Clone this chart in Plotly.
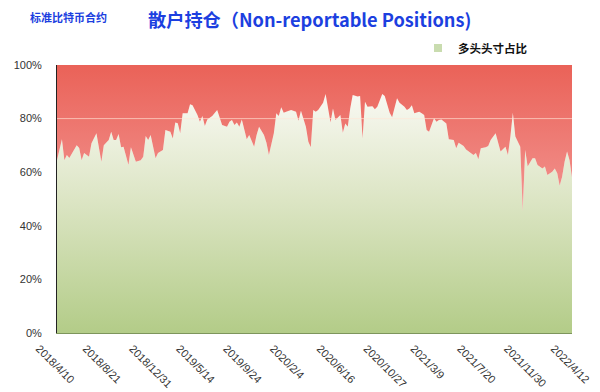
import plotly.graph_objects as go
import pandas as pd
import numpy as np

start_date = "2018-04-10"

# week offsets from the start date, and long-position share (%)
weeks = [0, 2, 3, 4, 5, 7, 8, 9, 10, 11, 13, 14, 16, 18, 19, 21, 22, 23, 24, 25,
         26, 27, 29, 30, 32, 34, 35, 36, 37, 38, 40, 41, 43, 44, 46, 47, 48, 49, 50, 51,
         53, 54, 55, 57, 58, 59, 60, 61, 63, 65, 66, 67, 69,
         70, 71, 72, 73, 74, 75, 76, 77, 78, 79, 80, 81, 82, 84, 85, 86, 88, 89, 90, 91,
         92, 93, 95, 97, 98, 99, 101, 102, 103, 104, 105, 106, 108, 109, 111, 112, 113,
         115, 116, 117, 118, 119, 120, 122, 123, 124, 125, 126, 128, 129, 130, 132, 133,
         135, 136, 138,
         139, 141, 142, 143, 144, 145, 147, 148, 149, 150, 151, 153, 154, 155, 156, 158,
         159, 161, 162, 163, 165, 166, 167, 169, 170, 171, 172, 174, 175, 176, 178, 179,
         180, 182, 183, 184, 185, 186, 187, 188, 189, 190, 191, 193, 194, 195, 197, 198,
         199, 201, 202, 203, 204, 205, 206, 207, 208, 209]
long_share = [64.5, 72.3, 64.5, 66.4, 65.3, 68.9, 70.1, 69.0, 64.5, 67.2, 65.8, 70.8, 74.5, 63.9, 70.1, 72.0, 75.1, 72.0, 72.0, 74.3,
              69.3, 69.5, 62.7, 69.3, 63.9, 64.5, 65.8, 73.5, 72.0, 73.9, 65.2, 67.2, 68.3, 75.7, 75.1, 72.6, 78.5, 78.3, 74.5, 82.0,
              82.0, 85.4, 85.0, 81.3, 78.8, 81.0, 77.2, 79.7, 81.0, 83.2, 80.1, 77.6, 77.0,
              78.8, 79.5, 77.6, 78.5, 77.0, 79.7, 75.5, 72.3, 73.9, 72.0, 69.5, 73.9, 77.0, 73.9, 71.0, 66.4, 74.5, 82.0, 81.0, 84.2,
              82.2, 82.6, 83.2, 82.6, 79.2, 82.9, 77.0, 71.4, 69.3, 83.2, 82.6, 83.2, 85.9, 89.2, 78.5, 83.8, 79.5,
              81.3, 74.7, 78.2, 77.0, 83.8, 88.8, 88.2, 88.4, 72.6, 86.3, 84.4, 84.6, 83.5, 84.4, 89.2, 88.4,
              82.2, 80.5, 87.6,
              85.9, 84.4, 83.2, 83.8, 85.0, 82.0, 82.6, 82.0, 81.3, 75.7, 75.1, 80.1, 78.8, 79.5, 79.7, 78.2,
              72.3, 72.0, 68.9, 71.0, 69.8, 68.5, 67.7, 66.4, 67.2, 64.8, 68.9, 69.3, 69.8, 72.0, 74.5, 71.4,
              67.7, 69.5, 66.4, 73.3, 82.2, 73.3, 71.4, 69.5, 45.3, 68.3, 62.1, 65.2, 65.2, 62.7, 61.4, 62.1,
              59.0, 60.2, 61.4, 59.6, 54.9, 58.3, 63.9, 67.7, 64.5, 58.0]

tick_dates = ["2018-04-10", "2018-08-21", "2018-12-31", "2019-05-14", "2019-09-24", "2020-02-04",
              "2020-06-16", "2020-10-27", "2021-03-09", "2021-07-20", "2021-11-30", "2022-04-12"]
tick_labels = ["2018/4/10", "2018/8/21", "2018/12/31", "2019/5/14", "2019/9/24", "2020/2/4",
               "2020/6/16", "2020/10/27", "2021/3/9", "2021/7/20", "2021/11/30", "2022/4/12"]
y_ticks = [0, 20, 40, 60, 80, 100]
y_labels = ["0%", "20%", "40%", "60%", "80%", "100%"]
ref_line = 80

dates = pd.Timestamp(start_date) + pd.to_timedelta(np.array(weeks) * 7, unit="D")
full = [100] * len(long_share)

# the page body adds an 8px offset, so the figure is 592x384 and placed at (8, 8)
W, H = 592, 384
L, R, T, B = 49, 28, 57, 59
PW, PH = W - L - R, H - T - B

fig = go.Figure()
fig.add_trace(go.Scatter(
    x=dates, y=long_share, mode="lines", line=dict(width=0, color="#cfe0b4"),
    fill="tozeroy",
    fillgradient=dict(type="vertical", start=0, stop=90,
                      colorscale=[[0, "#b3cc88"], [0.55, "#dce5c4"], [1, "#f9f9f3"]]),
    showlegend=False, hoverinfo="skip"))
fig.add_trace(go.Scatter(
    x=dates, y=full, mode="lines", line=dict(width=0, color="#ea6258"),
    fill="tonexty",
    fillgradient=dict(type="vertical", start=40, stop=100,
                      colorscale=[[0, "#f39a97"], [1, "#ea6258"]]),
    showlegend=False, hoverinfo="skip"))
fig.add_trace(go.Scatter(
    x=[None], y=[None], mode="markers", name="多头头寸占比",
    marker=dict(symbol="square", size=8, color="#c9dcaf")))

fig.add_shape(type="line", xref="paper", x0=0, x1=1, yref="y", y0=ref_line, y1=ref_line,
              line=dict(color="rgba(255,230,215,0.65)", width=1), layer="above")

fig.add_annotation(text="标准比特币合约", xref="paper", yref="paper",
                   x=(20 - L) / PW, y=(H - B - 9) / PH, xanchor="left", yanchor="middle",
                   showarrow=False,
                   font=dict(family="Noto Sans CJK SC", size=11, color="#1c3fe0", weight="bold"))

fig.add_annotation(text="散户持仓（Non-reportable Positions)", xref="paper", yref="paper",
                   x=(138 - L) / PW, y=(H - B - 11) / PH, xanchor="left", yanchor="middle",
                   showarrow=False,
                   font=dict(family="Noto Sans CJK SC", size=18.2, color="#1c3fe0", weight="bold"))

fig.update_layout(
    width=W, height=H,
    margin=dict(l=L, r=R, t=T, b=B, autoexpand=False),
    paper_bgcolor="white", plot_bgcolor="white",
    legend=dict(x=(410 - L) / PW, y=(H - B - 40) / PH, xanchor="left", yanchor="middle",
                orientation="h", bgcolor="rgba(0,0,0,0)",
                font=dict(family="Noto Sans CJK SC", size=11.5, color="#111", weight="bold")),
    xaxis=dict(type="date", range=[dates[0], dates[-1]], tickvals=tick_dates, ticktext=tick_labels,
               tickangle=45, ticks="", showgrid=False, showline=True, linecolor="#7d955c",
               ticklabelshift=-18, ticklabelstandoff=4, zeroline=False, automargin=False,
               tickfont=dict(family="Liberation Sans", size=11, color="#333")),
    yaxis=dict(range=[0, 100], tickvals=y_ticks, ticktext=y_labels, ticks="", showgrid=False,
               showline=True, linecolor="#222", zeroline=False, ticklabelstandoff=12,
               automargin=False,
               tickfont=dict(family="Liberation Sans", size=11, color="#333")),
    hovermode=False,
)

fig.write_html("out.html")
